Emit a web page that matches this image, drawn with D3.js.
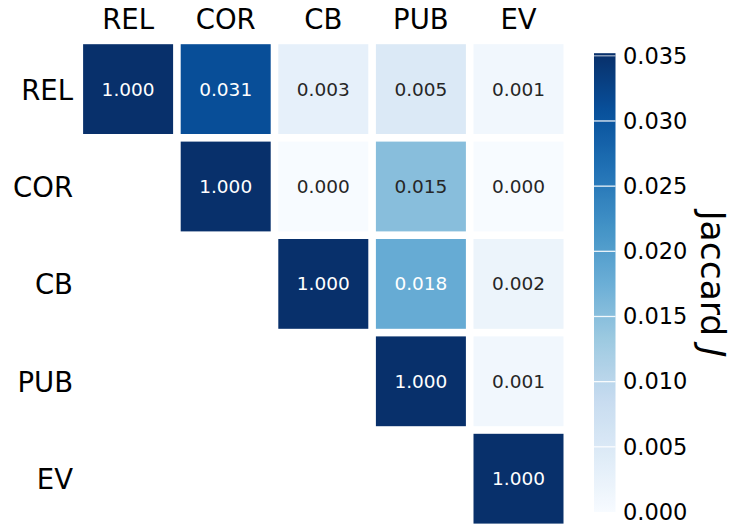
<!DOCTYPE html>
<html>
<head>
<meta charset="utf-8">
<script src="https://cdn.jsdelivr.net/npm/d3@7"></script>
<style>
  html, body { margin: 0; padding: 0; background: #fff; }
  svg { display: block; font-family: "DejaVu Sans", sans-serif; }
</style>
</head>
<body>
<svg id="chart" width="732" height="525"></svg>
<script>
// ---- data ----
const categories = ["REL", "COR", "CB", "PUB", "EV"];
// upper-triangular Jaccard matrix (null = masked)
const rowREL = [1.000, 0.031, 0.003, 0.005, 0.001];
const rowCOR = [null, 1.000, 0.000, 0.015, 0.000];
const rowCB  = [null, null, 1.000, 0.018, 0.002];
const rowPUB = [null, null, null, 1.000, 0.001];
const rowEV  = [null, null, null, null, 1.000];
const matrix = [rowREL, rowCOR, rowCB, rowPUB, rowEV];
const colorTicks = [0.000, 0.005, 0.010, 0.015, 0.020, 0.025, 0.030, 0.035];
const colorMax = 0.035;
const blues9 = ["#f7fbff","#deebf7","#c6dbef","#9ecae1","#6baed6","#4292c6","#2171b5","#08519c","#08306b"];

// ---- layout ----
const svg = d3.select("#chart");
const gridLeft = 79.3, gridTop = 40.4, pitchX = 97.6, pitchY = 97.4, gap = 7.6;

const x = d3.scaleBand().domain(categories).range([gridLeft, gridLeft + pitchX * 5]).padding(0);
const y = d3.scaleBand().domain(categories).range([gridTop, gridTop + pitchY * 5]).padding(0);

const interp = d3.piecewise(d3.interpolateRgb, blues9);
const color = v => interp(Math.max(0, Math.min(1, v / colorMax)));

const cells = [];
matrix.forEach((row, i) => row.forEach((v, j) => {
  if (v !== null) cells.push({ r: categories[i], c: categories[j], v });
}));

const g = svg.append("g");
g.selectAll("rect.cell").data(cells).enter().append("rect")
  .attr("class", "cell")
  .attr("x", d => x(d.c) + gap / 2)
  .attr("y", d => y(d.r) + gap / 2)
  .attr("width", x.bandwidth() - gap)
  .attr("height", y.bandwidth() - gap)
  .attr("fill", d => color(d.v));

function relLum(c) {
  const f = u => { u /= 255; return u <= 0.03928 ? u / 12.92 : Math.pow((u + 0.055) / 1.055, 2.4); };
  return 0.2126 * f(c.r) + 0.7152 * f(c.g) + 0.0722 * f(c.b);
}
function textColor(v) {
  return relLum(d3.rgb(color(v))) > 0.408 ? "#262626" : "#ffffff";
}

g.selectAll("text.annot").data(cells).enter().append("text")
  .attr("class", "annot")
  .attr("x", d => x(d.c) + x.bandwidth() / 2)
  .attr("y", d => y(d.r) + y.bandwidth() / 2)
  .attr("text-anchor", "middle")
  .attr("dominant-baseline", "central")
  .attr("font-size", 18.5)
  .attr("fill", d => textColor(d.v))
  .text(d => d.v.toFixed(3));

// top labels
svg.append("g").selectAll("text").data(categories).enter().append("text")
  .attr("x", d => x(d) + x.bandwidth() / 2)
  .attr("y", 28.5)
  .attr("text-anchor", "middle")
  .attr("font-size", 27.5)
  .attr("fill", "#000")
  .text(d => d);

// left labels
svg.append("g").selectAll("text").data(categories).enter().append("text")
  .attr("x", 73)
  .attr("y", d => y(d) + y.bandwidth() / 2 + 10.5)
  .attr("text-anchor", "end")
  .attr("font-size", 27.5)
  .attr("fill", "#000")
  .text(d => d);

// ---- colorbar ----
const cbX = 594, cbW = 21.5;
const cbScale = d3.scaleLinear().domain([0, colorMax]).range([512, 55.8]);
const defs = svg.append("defs");
const grad = defs.append("linearGradient").attr("id", "cbgrad")
  .attr("x1", 0).attr("y1", 1).attr("x2", 0).attr("y2", 0);
d3.range(0, 1.0001, 0.02).forEach(t => {
  grad.append("stop").attr("offset", t).attr("stop-color", interp(Math.min(1, t * 1.004)));
});
const cbTopVal = 0.0352;
svg.append("rect")
  .attr("x", cbX).attr("y", cbScale(cbTopVal))
  .attr("width", cbW).attr("height", cbScale(0) - cbScale(cbTopVal))
  .attr("fill", "url(#cbgrad)");

// white separator lines at ticks
svg.append("g").selectAll("line").data(colorTicks.filter(t => t > 0)).enter().append("line")
  .attr("x1", cbX).attr("x2", cbX + cbW)
  .attr("y1", d => cbScale(d)).attr("y2", d => cbScale(d))
  .attr("stroke", "#ffffff").attr("stroke-opacity", d => d >= colorMax ? 0.6 : 0.9)
  .attr("stroke-width", 1.3);

const cbAxis = d3.axisRight(cbScale).tickValues(colorTicks).tickSize(0).tickPadding(0)
  .tickFormat(d3.format(".3f"));
const axG = svg.append("g").attr("transform", `translate(${cbX + cbW + 7.5},0)`).call(cbAxis);
axG.select(".domain").remove();
axG.selectAll("text").attr("font-size", 22.5).attr("fill", "#000")
  .attr("font-family", "DejaVu Sans, sans-serif");

// colorbar label
const lbl = svg.append("text")
  .attr("transform", `translate(701,${(cbScale(0) + cbScale(colorMax)) / 2}) rotate(90)`)
  .attr("text-anchor", "middle")
  .attr("font-size", 34.5)
  .attr("fill", "#000");
lbl.append("tspan").text("Jaccard ");
lbl.append("tspan").attr("font-style", "italic").text("J");
</script>
</body>
</html>
